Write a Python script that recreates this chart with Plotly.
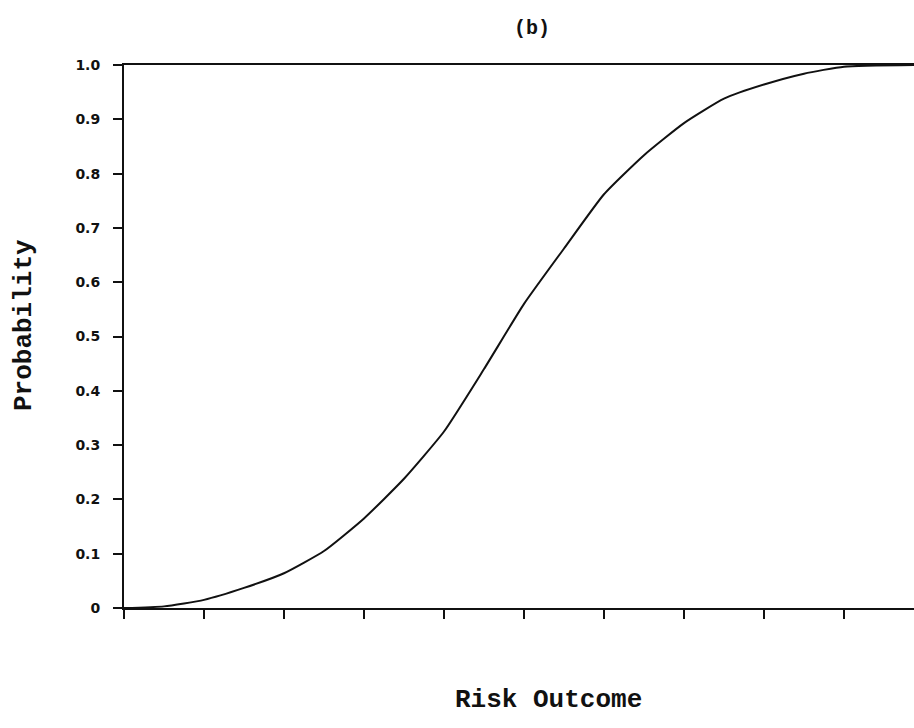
import plotly.graph_objects as go

# Cumulative probability of the risk outcome
risk_outcome = [0, 0.5, 1, 1.5, 2, 2.5, 3, 3.5, 4, 4.5, 5, 5.5, 6, 6.5, 7, 7.5, 8, 8.5, 9, 9.875]
probability = [0, 0.003, 0.015, 0.037, 0.064, 0.105, 0.165, 0.238, 0.325, 0.44, 0.56, 0.662,
               0.762, 0.834, 0.893, 0.938, 0.964, 0.984, 0.997, 1.0]

y_ticks = [0, 0.1, 0.2, 0.3, 0.4, 0.5, 0.6, 0.7, 0.8, 0.9, 1.0]
y_tick_labels = ["0", "0.1", "0.2", "0.3", "0.4", "0.5", "0.6", "0.7", "0.8", "0.9", "1.0"]
x_ticks = [0, 1, 2, 3, 4, 5, 6, 7, 8, 9]

mono = "Liberation Mono"

fig = go.Figure()
fig.add_trace(go.Scatter(
    x=risk_outcome, y=probability, mode="lines",
    line=dict(color="#111111", width=2, shape="spline", smoothing=0.5),
    hoverinfo="skip", showlegend=False,
))

fig.update_layout(
    width=914, height=728,
    margin=dict(l=124, r=0, t=65, b=120),
    paper_bgcolor="white", plot_bgcolor="white",
    xaxis=dict(
        range=[0, 9.875], tickvals=x_ticks, showticklabels=False,
        ticks="outside", ticklen=9, tickwidth=2, tickcolor="#111111",
        showline=True, linecolor="#111111", linewidth=2, mirror=True,
        showgrid=False, zeroline=False, fixedrange=True,
    ),
    yaxis=dict(
        range=[0, 1], tickvals=y_ticks, ticktext=y_tick_labels,
        ticks="outside", ticklen=9, tickwidth=2, tickcolor="#111111",
        ticklabelstandoff=10,
        tickfont=dict(family="DejaVu Sans", size=14, color="#111111", weight="bold"),
        showline=True, linecolor="#111111", linewidth=2,
        showgrid=False, zeroline=False, fixedrange=True,
    ),
    annotations=[
        dict(text="(b)", xref="paper", yref="paper", x=(532 - 124) / 790, y=1 + 37 / 543,
             xanchor="center", yanchor="middle", showarrow=False,
             font=dict(family=mono, size=20, color="#111111", weight="bold")),
        dict(text="Risk Outcome", xref="paper", yref="paper", x=(548 - 124) / 790, y=-(700 - 608) / 543,
             xanchor="center", yanchor="middle", showarrow=False,
             font=dict(family=mono, size=26, color="#111111", weight="bold")),
        dict(text="Probability", xref="paper", yref="paper", x=-(124 - 24) / 790, y=(608 - 325) / 543,
             xanchor="center", yanchor="middle", showarrow=False, textangle=-90,
             font=dict(family=mono, size=26, color="#111111", weight="bold")),
    ],
)

fig.write_html("out.html")
